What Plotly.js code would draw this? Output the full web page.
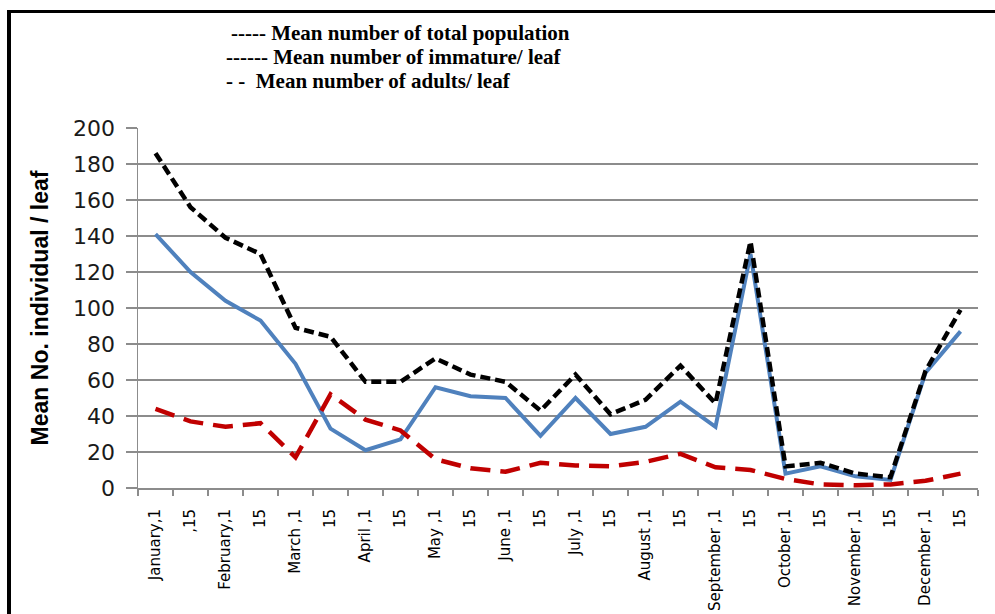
<!DOCTYPE html>
<html>
<head>
<meta charset="utf-8">
<script src="https://cdn.plot.ly/plotly-3.0.1.min.js"></script>
<style>
  html, body { margin: 0; padding: 0; background: #fff; }
  #wrap { position: relative; width: 995px; height: 614px; overflow: hidden; }
  #chart { position: absolute; left: 0; top: 0; width: 995px; height: 614px; }
  #frame { position: absolute; left: 7px; top: 10px; width: 988px; height: 604px;
           border-left: 4px solid #000; border-top: 3px solid #000; box-sizing: border-box; pointer-events: none; }
</style>
</head>
<body>
<div id="wrap">
  <div id="chart"></div>
  <div id="frame"></div>
</div>
<script>
// ---- data ----
const categories = ["January,1", ",15", "February,1", "15", "March ,1", "15", "April ,1", "15",
  "May ,1", "15", "June ,1", "15", "July ,1", "15", "August ,1", "15",
  "September ,1", "15", "October ,1", "15", "November ,1", "15", "December ,1", "15"];

const totalPopulation = [186, 156, 139, 130, 89, 84, 59, 59, 72, 63, 59, 43,
  63, 41, 49, 68, 47, 137, 12, 14, 8, 6, 65, 99];

const immaturePerLeaf = [141, 120, 104, 93, 69, 33, 21, 27, 56, 51, 50, 29,
  50, 30, 34, 48, 34, 130, 8, 12, 6.5, 4.5, 64, 87];

const adultsPerLeaf = [44, 37, 34, 36, 17, 52, 38, 32, 16, 11, 9, 14,
  12.5, 12, 14.5, 19, 11.5, 10, 5, 2, 1.5, 2, 4, 8];

const yTicks = [0, 20, 40, 60, 80, 100, 120, 140, 160, 180, 200];

const legendLines = [
  "----- Mean number of total population",
  "------ Mean number of immature/ leaf",
  "- -  Mean number of adults/ leaf"
];

// ---- chart ----
const idx = categories.map((_, i) => i);

const traces = [
  { x: idx, y: immaturePerLeaf, type: "scatter", mode: "lines", name: "immature",
    line: { color: "#4F81BD", width: 4 } },
  { x: idx, y: adultsPerLeaf, type: "scatter", mode: "lines", name: "adults",
    line: { color: "#C00000", width: 4.5, dash: "20px,10px" } },
  { x: idx, y: totalPopulation, type: "scatter", mode: "lines", name: "total",
    line: { color: "#000000", width: 4.5, dash: "10px,5px" } }
];

const legendX = [229, 224, 224];
const legendY = [33, 57, 81];
const plotL = 138, plotR = 978, plotT = 128, plotB = 488;

const annotations = legendLines.map((t, i) => ({
  text: t, showarrow: false, xref: "paper", yref: "paper",
  x: (legendX[i] - plotL) / (plotR - plotL),
  y: (plotB - legendY[i]) / (plotB - plotT),
  xanchor: "left", yanchor: "middle",
  font: { family: "Liberation Serif, Times New Roman, serif", size: 21, color: "#000", weight: "bold" }
}));

const layout = {
  width: 995, height: 614,
  margin: { l: plotL, r: 995 - plotR, t: plotT, b: 614 - plotB, pad: 0 },
  paper_bgcolor: "#fff", plot_bgcolor: "#fff",
  showlegend: false,
  xaxis: {
    range: [-0.5, 23.5], tickmode: "array", tickvals: idx, ticktext: categories,
    tickangle: -90, ticks: "", showgrid: false, zeroline: false,
    showline: true, linecolor: "#8c8c8c", linewidth: 2,
    tickfont: { family: "DejaVu Sans, Arial, sans-serif", size: 15, color: "#000" },
    ticklabelstandoff: 13, automargin: false,
    minor: { tick0: -0.5, dtick: 1, ticks: "outside", ticklen: 6, tickcolor: "#8c8c8c", tickwidth: 2, showgrid: false }
  },
  yaxis: {
    range: [0, 200], tickmode: "array", tickvals: yTicks,
    ticks: "outside", ticklen: 11, tickcolor: "#8c8c8c", tickwidth: 1.5,
    showgrid: true, gridcolor: "#8c8c8c", gridwidth: 1.5,
    showline: true, linecolor: "#8c8c8c", linewidth: 1.5, zeroline: false,
    tickfont: { family: "DejaVu Sans, Arial, sans-serif", size: 22, color: "#1a1a1a" },
    ticklabelstandoff: 6, automargin: false,
    title: { text: "Mean No. individual / leaf", standoff: 18,
      font: { family: "Liberation Sans, Arial, sans-serif", size: 23, color: "#000", weight: "bold" } }
  },
  annotations: annotations
};

Plotly.newPlot("chart", traces, layout, { displayModeBar: false, staticPlot: true });
</script>
</body>
</html>
